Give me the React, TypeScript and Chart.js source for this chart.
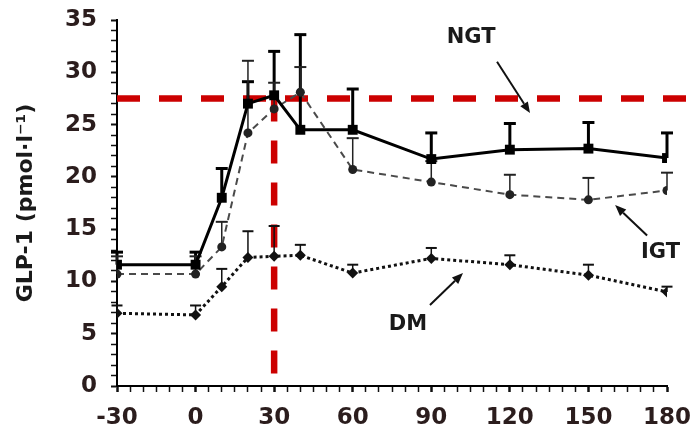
import React, { useEffect, useRef } from "react";
import { Chart, registerables } from "chart.js";

Chart.register(...registerables);

// ---- data ----
const times = [-30, 0, 10, 20, 30, 40, 60, 90, 120, 150, 180];
const ngtMean = [11.6, 11.6, 18.0, 27.0, 27.8, 24.5, 24.5, 21.7, 22.6, 22.7, 21.8];
const ngtUpper = [12.8, 12.8, 20.8, 29.1, 32.0, 33.6, 28.4, 24.2, 25.1, 25.2, 24.2];
const igtMean = [10.7, 10.7, 13.3, 24.2, 26.5, 28.1, 20.7, 19.5, 18.3, 17.8, 18.7];
const igtUpper = [12.4, 12.4, 15.7, 31.1, 29.0, 30.5, 23.7, 21.5, 20.2, 19.9, 20.4];
const dmMean = [6.95, 6.8, 9.5, 12.3, 12.4, 12.5, 10.8, 12.2, 11.6, 10.6, 9.0];
const dmUpper = [7.7, 7.7, 11.2, 14.8, 15.3, 13.5, 11.6, 13.2, 12.5, 11.6, 9.5];

const xMin = -30;
const xMax = 180;
const yMin = 0;
const yMax = 35;
const refLevel = 27.5; // horizontal red dashed line
const refTime = 30; // vertical red dashed line

// annotation anchors in data coordinates
const textLabels = [
  { text: "NGT", x: 105.2, y: 33.3 },
  { text: "IGT", x: 177.5, y: 12.8 },
  { text: "DM", x: 81.1, y: 5.85 },
];
const arrowList = [
  { x1: 115.1, y1: 31.0, x2: 127.7, y2: 26.1 },
  { x1: 172.4, y1: 14.4, x2: 160.2, y2: 17.3 },
  { x1: 89.5, y1: 7.75, x2: 102.1, y2: 10.8 },
];

const FONT = "'DejaVu Sans', Verdana, sans-serif";

const toPoints = (vals: number[]) => vals.map((v, i) => ({ x: times[i], y: v }));

const errorBarStyles = [
  { upper: ngtUpper, width: 3, cap: 12, capWidth: 3, color: "#000" },
  { upper: igtUpper, width: 1.5, cap: 12, capWidth: 2, color: "#222" },
  { upper: dmUpper, width: 1.5, cap: 11, capWidth: 2, color: "#111" },
];

const refLinesPlugin = {
  id: "refLines",
  beforeDatasetsDraw(chart: any) {
    const { ctx } = chart;
    const xs = chart.scales.x;
    const ys = chart.scales.y;
    const yRef = ys.getPixelForValue(refLevel);
    const xRef = xs.getPixelForValue(refTime);
    ctx.save();
    ctx.strokeStyle = "#cc0000";
    ctx.lineWidth = 6.5;
    ctx.setLineDash([23, 19]);
    ctx.lineCap = "butt";
    ctx.beginPath();
    ctx.moveTo(xs.left, yRef);
    ctx.lineTo(chart.width, yRef);
    ctx.stroke();
    ctx.beginPath();
    ctx.moveTo(xRef, yRef);
    ctx.lineTo(xRef, ys.getPixelForValue(yMin));
    ctx.stroke();
    ctx.restore();
  },
};

const errorBarsPlugin = {
  id: "errorBars",
  beforeDatasetsDraw(chart: any) {
    const { ctx } = chart;
    const xs = chart.scales.x;
    const ys = chart.scales.y;
    ctx.save();
    ctx.setLineDash([]);
    chart.data.datasets.forEach((ds: any, di: number) => {
      const st = errorBarStyles[di];
      ds.data.forEach((p: any, i: number) => {
        const x = xs.getPixelForValue(p.x);
        const y0 = ys.getPixelForValue(p.y);
        const y1 = ys.getPixelForValue(st.upper[i]);
        ctx.strokeStyle = st.color;
        ctx.lineWidth = st.width;
        ctx.beginPath();
        ctx.moveTo(x, y0);
        ctx.lineTo(x, y1);
        ctx.stroke();
        ctx.lineWidth = st.capWidth;
        ctx.beginPath();
        ctx.moveTo(x - st.cap / 2, y1);
        ctx.lineTo(x + st.cap / 2, y1);
        ctx.stroke();
      });
    });
    ctx.restore();
  },
};

const annotationsPlugin = {
  id: "annotations",
  afterDraw(chart: any) {
    const { ctx } = chart;
    const xs = chart.scales.x;
    const ys = chart.scales.y;
    ctx.save();
    ctx.fillStyle = "#1a1a1a";
    ctx.font = `bold 21px ${FONT}`;
    ctx.textAlign = "center";
    ctx.textBaseline = "middle";
    textLabels.forEach((t) => {
      ctx.fillText(t.text, xs.getPixelForValue(t.x), ys.getPixelForValue(t.y));
    });
    ctx.strokeStyle = "#111";
    ctx.lineWidth = 2;
    arrowList.forEach((a) => {
      const x1 = xs.getPixelForValue(a.x1);
      const y1 = ys.getPixelForValue(a.y1);
      const x2 = xs.getPixelForValue(a.x2);
      const y2 = ys.getPixelForValue(a.y2);
      const ang = Math.atan2(y2 - y1, x2 - x1);
      const hl = 11;
      const hw = 4.5;
      const bx = x2 - hl * Math.cos(ang);
      const by = y2 - hl * Math.sin(ang);
      ctx.beginPath();
      ctx.moveTo(x1, y1);
      ctx.lineTo(bx, by);
      ctx.stroke();
      ctx.beginPath();
      ctx.moveTo(x2, y2);
      ctx.lineTo(bx + hw * Math.sin(ang), by - hw * Math.cos(ang));
      ctx.lineTo(bx - hw * Math.sin(ang), by + hw * Math.cos(ang));
      ctx.closePath();
      ctx.fillStyle = "#111";
      ctx.fill();
    });
    ctx.restore();
  },
};

export default function App() {
  const canvasRef = useRef<HTMLCanvasElement | null>(null);

  useEffect(() => {
    document.body.style.margin = "0";
    const canvas = canvasRef.current;
    if (!canvas) return;
    const chart = new Chart(canvas, {
      type: "line",
      data: {
        datasets: [
          {
            label: "NGT",
            data: toPoints(ngtMean),
            borderColor: "#000",
            borderWidth: 3,
            pointStyle: "rect",
            pointRadius: 7,
            pointBackgroundColor: "#000",
            pointBorderColor: "#000",
            pointBorderWidth: 0,
            tension: 0,
          },
          {
            label: "IGT",
            data: toPoints(igtMean),
            borderColor: "#4a4a4a",
            borderWidth: 2,
            borderDash: [7, 5],
            pointStyle: "circle",
            pointRadius: 4.5,
            pointBackgroundColor: "#222",
            pointBorderColor: "#222",
            pointBorderWidth: 0,
            tension: 0,
          },
          {
            label: "DM",
            data: toPoints(dmMean),
            borderColor: "#111",
            borderWidth: 3,
            borderDash: [3, 3],
            pointStyle: "rectRot",
            pointRadius: 5.5,
            pointBackgroundColor: "#111",
            pointBorderColor: "#111",
            pointBorderWidth: 0,
            tension: 0,
          },
        ],
      },
      options: {
        responsive: false,
        animation: false,
        devicePixelRatio: 1,
        layout: { padding: { left: 0, top: 20, right: 30, bottom: 0 } },
        plugins: {
          legend: { display: false },
          tooltip: { enabled: false },
        },
        scales: {
          x: {
            type: "linear",
            min: xMin,
            max: xMax,
            afterFit: (s: any) => {
              s.height = 45;
              s.paddingLeft = 0;
              s.paddingRight = 0;
            },
            ticks: {
              stepSize: 5,
              autoSkip: false,
              maxRotation: 0,
              padding: 12,
              color: "#2b1d1d",
              font: { family: FONT, size: 23, weight: "bold" },
              callback: (v: any) => (Number(v) % 30 === 0 ? String(v) : ""),
            },
            grid: {
              drawOnChartArea: false,
              drawTicks: true,
              tickLength: 6,
              tickColor: "#111",
              tickWidth: (c: any) => (c.tick && c.tick.value % 30 === 0 ? 2.5 : 1.5),
            },
            border: { display: true, color: "#000", width: 2 },
          },
          y: {
            type: "linear",
            min: yMin,
            max: yMax,
            afterFit: (s: any) => {
              s.width = 117;
              s.paddingTop = 0;
              s.paddingBottom = 0;
            },
            ticks: {
              stepSize: 1,
              autoSkip: false,
              padding: 14,
              color: "#2b1d1d",
              font: { family: FONT, size: 23, weight: "bold" },
              callback: (v: any) => (Number(v) % 5 === 0 ? String(v) : ""),
            },
            grid: {
              drawOnChartArea: false,
              drawTicks: true,
              tickLength: 6,
              tickColor: "#111",
              tickWidth: (c: any) => (c.tick && c.tick.value % 5 === 0 ? 2 : 1.5),
            },
            border: { display: true, color: "#000", width: 2 },
            title: {
              display: true,
              text: "GLP-1 (pmol·l⁻¹)",
              color: "#1a1a1a",
              font: { family: FONT, size: 22, weight: "bold" },
              padding: { top: 13, bottom: 0 },
            },
          },
        },
      },
      plugins: [refLinesPlugin, errorBarsPlugin, annotationsPlugin],
    } as any);
    return () => chart.destroy();
  }, []);

  return (
    <div style={{ position: "absolute", left: 0, top: 0, width: 697, height: 431, background: "#fff" }}>
      <canvas ref={canvasRef} width={697} height={431} style={{ display: "block" }} />
    </div>
  );
}
